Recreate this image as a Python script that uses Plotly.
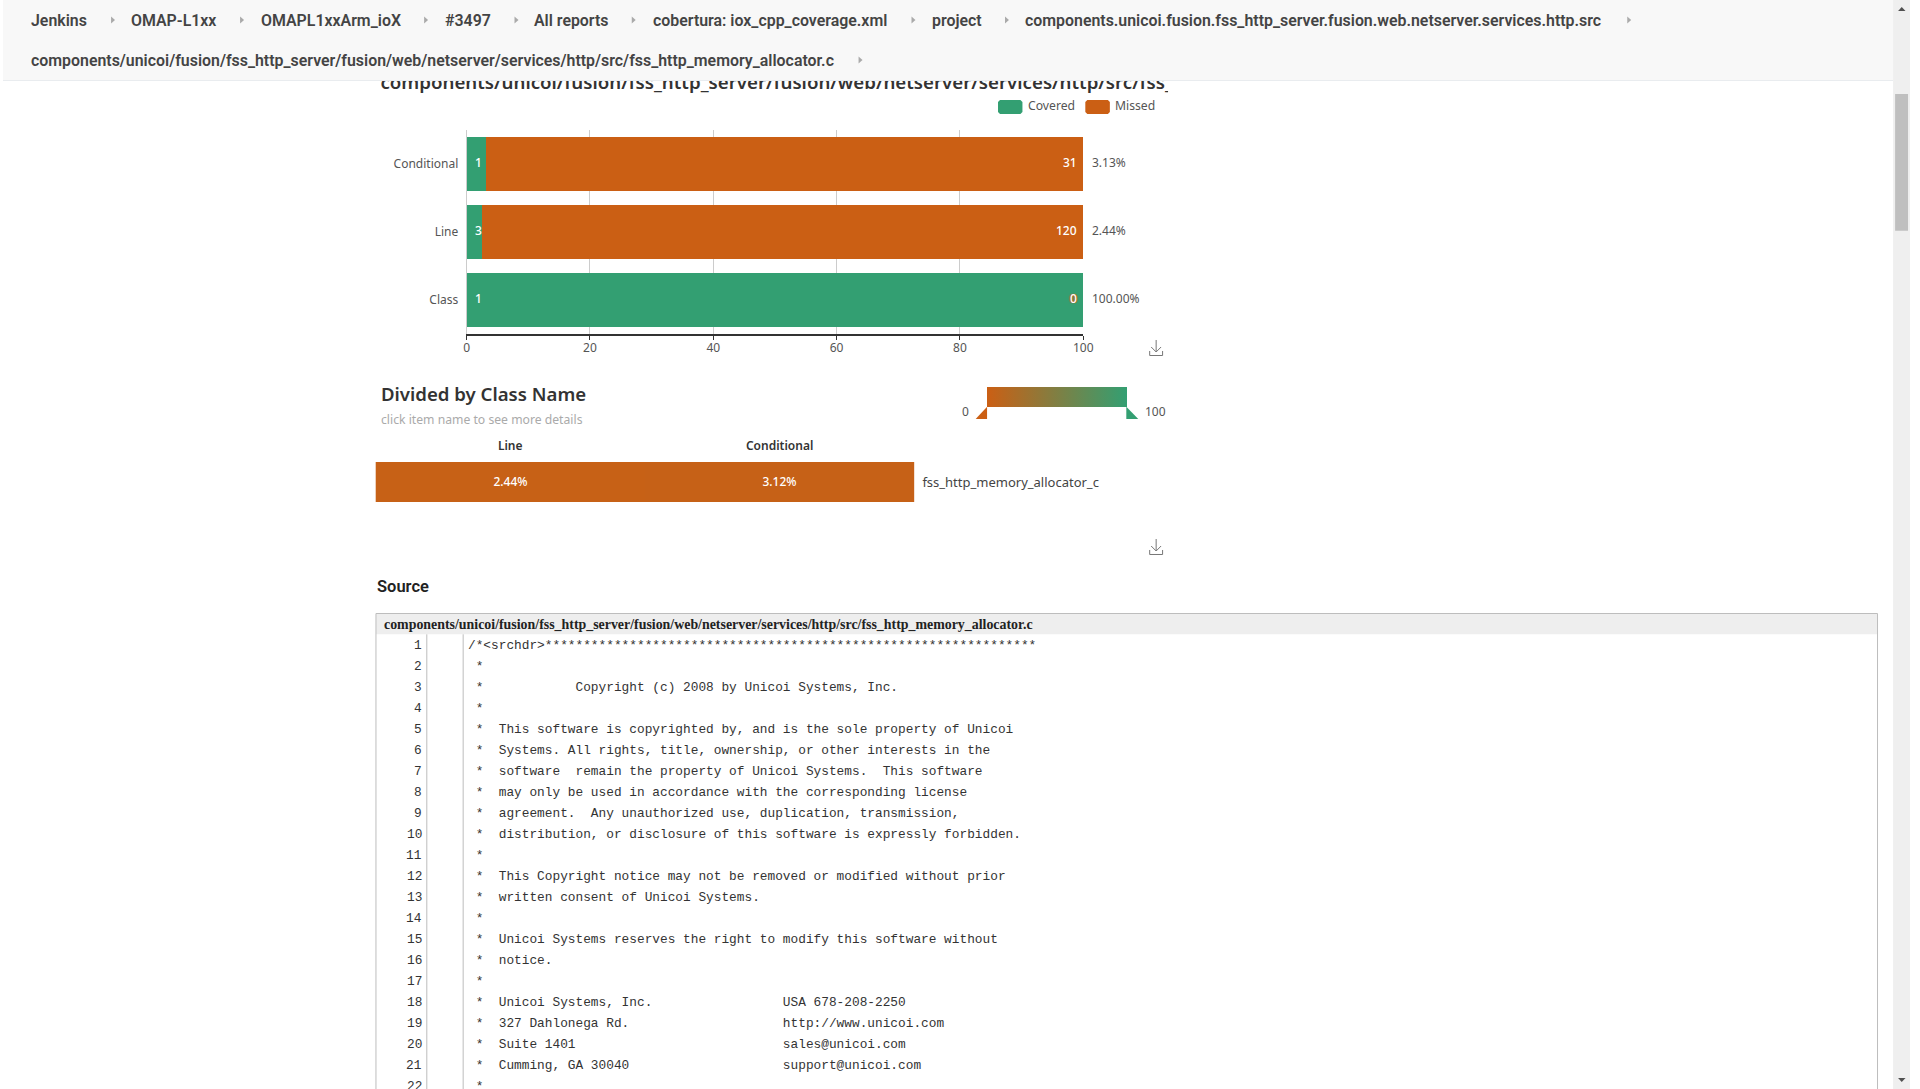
import plotly.graph_objects as go

WIDTH = 1920
HEIGHT = 1089

GREEN = "#339f72"
ORANGE = "#cb5f14"
SANS = "Noto Sans"

# coverage summary
categories = ["Conditional", "Line", "Class"]
covered_counts = [1, 3, 1]
missed_counts = [31, 120, 0]
coverage_labels = ["3.13%", "2.44%", "100.00%"]
x_ticks = [0, 20, 40, 60, 80, 100]

# divided by class name
heat_columns = ["Line", "Conditional"]
heat_rows = ["fss_http_memory_allocator_c"]
heat_values = [[2.44, 3.12]]

# page text
crumbs_row1 = ["Jenkins", "OMAP-L1xx", "OMAPL1xxArm_ioX", "#3497", "All reports",
               "cobertura: iox_cpp_coverage.xml", "project",
               "components.unicoi.fusion.fss_http_server.fusion.web.netserver.services.http.src"]
crumbs_row1_x = [28, 128.6, 259.6, 445, 535, 654.6, 935, 1029]
crumb_arrows_row1_x = [110.8, 240.7, 426, 517, 635, 916.7, 1010.8, 1637.3]
source_path = "components/unicoi/fusion/fss_http_server/fusion/web/netserver/services/http/src/fss_http_memory_allocator.c"

code_lines = [
    "/*<srchdr>****************************************************************",
    " *",
    " *            Copyright (c) 2008 by Unicoi Systems, Inc.",
    " *",
    " *  This software is copyrighted by, and is the sole property of Unicoi",
    " *  Systems. All rights, title, ownership, or other interests in the",
    " *  software  remain the property of Unicoi Systems.  This software",
    " *  may only be used in accordance with the corresponding license",
    " *  agreement.  Any unauthorized use, duplication, transmission,",
    " *  distribution, or disclosure of this software is expressly forbidden.",
    " *",
    " *  This Copyright notice may not be removed or modified without prior",
    " *  written consent of Unicoi Systems.",
    " *",
    " *  Unicoi Systems reserves the right to modify this software without",
    " *  notice.",
    " *",
    " *  Unicoi Systems, Inc.                 USA 678-208-2250",
    " *  327 Dahlonega Rd.                    http://www.unicoi.com",
    " *  Suite 1401                           sales@unicoi.com",
    " *  Cumming, GA 30040                    support@unicoi.com",
    " *",
]


def px(x):
    return x / WIDTH


def py(y):
    return 1 - y / HEIGHT


def label(text, x, y, size=12, color="#444", family=SANS, weight=400, xanchor="left"):
    return dict(text=text, x=px(x), y=py(y), xref="paper", yref="paper", xanchor=xanchor, yanchor="middle",
                showarrow=False, font=dict(size=size, color=color, family=family, weight=weight),
                borderpad=0, borderwidth=0)


def box(x0, y0, x1, y1, color):
    return dict(type="rect", xref="paper", yref="paper", x0=px(x0), y0=py(y0), x1=px(x1), y1=py(y1),
                fillcolor=color, line_width=0)


def hline(x0, x1, y, color, width=1):
    return dict(type="line", xref="paper", yref="paper", x0=px(x0), x1=px(x1), y0=py(y), y1=py(y),
                line=dict(color=color, width=width))


def vline(x, y0, y1, color, width=1):
    return dict(type="line", xref="paper", yref="paper", x0=px(x), x1=px(x), y0=py(y0), y1=py(y1),
                line=dict(color=color, width=width))


def poly(points, fill=None, line=None, closed=True):
    path = " ".join(("M" if i == 0 else "L") + " {:.5f} {:.5f}".format(px(a), py(b)) for i, (a, b) in enumerate(points))
    if closed:
        path += " Z"
    return dict(type="path", xref="paper", yref="paper", path=path, fillcolor=fill,
                line=dict(color=line, width=1) if line else dict(width=0))


def swatch(x0, y0, x1, y1, color):
    c = 2
    return poly([(x0 + c, y0), (x1 - c, y0), (x1, y0 + c), (x1, y1 - c), (x1 - c, y1),
                 (x0 + c, y1), (x0, y1 - c), (x0, y0 + c)], fill=color)


def download_icon(cx, top):
    return [
        poly([(cx, top), (cx, top + 12)], line="#777", closed=False),
        poly([(cx - 5, top + 7), (cx, top + 12), (cx + 5, top + 7)], line="#777", closed=False),
        poly([(cx - 6.5, top + 11), (cx - 6.5, top + 15.5), (cx + 6.5, top + 15.5), (cx + 6.5, top + 11)],
             line="#777", closed=False),
    ]


totals = [c + m for c, m in zip(covered_counts, missed_counts)]
covered_pct = [c / t * 100 for c, t in zip(covered_counts, totals)]
missed_pct = [m / t * 100 for m, t in zip(missed_counts, totals)]

fig = go.Figure()
fig.add_trace(go.Bar(y=categories, x=covered_pct, orientation="h", name="Covered",
                     marker=dict(color=GREEN, line_width=0), hoverinfo="skip"))
fig.add_trace(go.Bar(y=categories, x=missed_pct, orientation="h", name="Missed",
                     marker=dict(color=ORANGE, line_width=0), hoverinfo="skip"))

fig.add_trace(go.Heatmap(x=heat_columns, y=heat_rows, z=heat_values, coloraxis="coloraxis",
                         xaxis="x2", yaxis="y2", texttemplate="%{z:.2f}%",
                         textfont=dict(family=SANS, size=12, color="white", weight=500), hoverinfo="skip"))

# title scrolls under the fixed header, so it lives in a small clipped subplot
fig.add_trace(go.Scatter(x=[0], y=[0.8], mode="text", text=[source_path], textposition="middle right",
                         textfont=dict(family=SANS, size=18.7, color="#333", weight=600),
                         cliponaxis=True, xaxis="x3", yaxis="y3", hoverinfo="skip"))

annotations = []
shapes = []

# inline bar labels
for cat, cov, mis, pct in zip(categories, covered_counts, missed_counts, coverage_labels):
    annotations.append(dict(text=str(cov), x=0, y=cat, xref="x", yref="y", xanchor="left", xshift=6, yshift=1.5,
                            showarrow=False, font=dict(size=12, color="white", family=SANS, weight=500)))
    shadow = "none" if mis else "1px 0 1px %s, -1px 0 1px %s" % (ORANGE, ORANGE)
    annotations.append(dict(text=str(mis), x=100, y=cat, xref="x", yref="y", xanchor="right", xshift=-4, yshift=1.5,
                            showarrow=False, font=dict(size=12, color="white", family=SANS, weight=500, shadow=shadow)))
    annotations.append(dict(text=pct, x=100, y=cat, xref="x", yref="y", xanchor="left", xshift=7, yshift=1.5,
                            showarrow=False, font=dict(size=12, color="#555", family=SANS)))

# header
shapes.append(box(0, 0, 1903, 80, "#f8f8f8"))
shapes.append(hline(0, 1903, 80.5, "#e9ecef"))
for text, x in zip(crumbs_row1, crumbs_row1_x):
    annotations.append(label(text, x, 20, size=15.9, color="#444", family="Roboto", weight=600))
annotations.append(label(source_path, 28, 60, size=15.9, color="#444", family="Roboto", weight=600))
for x, y in [(a, 20) for a in crumb_arrows_row1_x] + [(863.4, 60)]:
    shapes.append(poly([(x - 2, y - 3.5), (x + 2, y), (x - 2, y + 3.5)], fill="#aaa"))

# scrollbar
shapes.append(box(1903, 0, 1920, HEIGHT, "#efefef"))
shapes.append(box(1905, 94, 1918, 230.7, "#bfbfbf"))
shapes.append(poly([(1908, 11), (1911.7, 7), (1915.5, 11)], fill="#505050"))
shapes.append(poly([(1908, 1078), (1911.7, 1082), (1915.5, 1078)], fill="#505050"))

# legend
shapes.append(swatch(1001.8, 100, 1026.4, 114, GREEN))
shapes.append(swatch(1089.7, 100, 1114.4, 114, ORANGE))
annotations.append(label("Covered", 1032, 105.7, size=12.2, color="#555"))
annotations.append(label("Missed", 1120, 105.7, size=12.2, color="#555"))

shapes += download_icon(1161, 340)
shapes += download_icon(1161, 539)

# class section
annotations.append(label("Divided by Class Name", 380.5, 393.3, size=18.6, color="#333", weight=600))
annotations.append(label("click item name to see more details", 380.5, 419.5, size=12.2, color="#aaa"))
annotations.append(label("0", 969, 411.7, color="#555", xanchor="center"))
annotations.append(label("100", 1160, 411.7, color="#555", xanchor="center"))
shapes.append(poly([(990.8, 406.7), (990.8, 419), (979.3, 419)], fill=ORANGE))
shapes.append(poly([(1131, 406.7), (1131, 419), (1143, 419)], fill=GREEN))

# source box
annotations.append(label("Source", 376.3, 586, size=16.5, color="#222", family="Roboto", weight=600))
shapes.append(box(375.5, 613.5, 1887.3, 634.3, "#eeeeee"))
shapes.append(hline(375.5, 1887.3, 613.5, "#bdbdbd"))
shapes.append(vline(375.5, 613.5, HEIGHT, "#bdbdbd"))
shapes.append(vline(1887.3, 613.5, HEIGHT, "#bdbdbd"))
shapes.append(vline(426.7, 634.3, HEIGHT, "#bdbdbd"))
shapes.append(vline(463.3, 634.3, HEIGHT, "#bdbdbd"))
annotations.append(label(source_path, 383.4, 624.5, size=13.9, color="#222", family="Liberation Serif", weight=700))
for i, line in enumerate(code_lines):
    y = 645.7 + 21 * i
    annotations.append(label(str(i + 1), 422.2, y, size=12.8, color="#333", family="Liberation Mono", xanchor="right"))
    annotations.append(label(line.replace(" ", "\u00a0"), 467.8, y, size=12.8, color="#333", family="Liberation Mono"))

fig.update_layout(
    width=WIDTH, height=HEIGHT, margin=dict(l=0, r=0, t=0, b=0), autosize=False,
    paper_bgcolor="white", plot_bgcolor="white", showlegend=False, barmode="stack", bargap=0.2,
    font=dict(family=SANS, size=12, color="#555"),
    annotations=annotations, shapes=shapes,
    xaxis=dict(domain=[px(466.8), px(1087.6)], range=[0, 100], tickvals=x_ticks, showgrid=True, gridcolor="#cccccc",
               gridwidth=1, zeroline=False, showline=True, linecolor="#333", linewidth=1.5, ticks="outside", ticklen=4,
               ticklabelstandoff=-2, tickcolor="#333", tickfont=dict(size=12, color="#555", family=SANS), anchor="y"),
    yaxis=dict(domain=[py(334.3), py(130)], autorange="reversed", showgrid=False, showline=True, linecolor="#ccc",
               linewidth=1, ticks="", ticklen=0, ticklabelstandoff=5, tickfont=dict(size=12, color="#555", family=SANS),
               anchor="x", zeroline=False),
    xaxis2=dict(domain=[px(375), px(917.6)], side="top", showgrid=False, zeroline=False, ticks="", anchor="y2",
                ticklabelstandoff=9, tickfont=dict(size=12, color="#333", family=SANS, weight=600)),
    yaxis2=dict(domain=[py(502), py(462)], side="right", showgrid=False, zeroline=False, ticks="", anchor="x2",
                ticklabelstandoff=7, tickfont=dict(size=13, color="#444", family=SANS)),
    xaxis3=dict(domain=[px(380), px(1173)], range=[0, 1], visible=False, anchor="y3"),
    yaxis3=dict(domain=[py(100), py(80)], range=[0, 1], visible=False, anchor="x3"),
    coloraxis=dict(cmin=0, cmax=100, colorscale=[[0, ORANGE], [1, GREEN]],
                   colorbar=dict(orientation="h", x=px(990.8), y=py(386.7), xanchor="left", yanchor="top",
                                 len=140.2, lenmode="pixels", thickness=20, thicknessmode="pixels", xpad=0, ypad=0,
                                 outlinewidth=0, showticklabels=False, ticks="")),
)

fig.write_html("out.html", config={"displayModeBar": False},
               post_script="document.body.style.margin='0';document.body.style.overflow='hidden';")
